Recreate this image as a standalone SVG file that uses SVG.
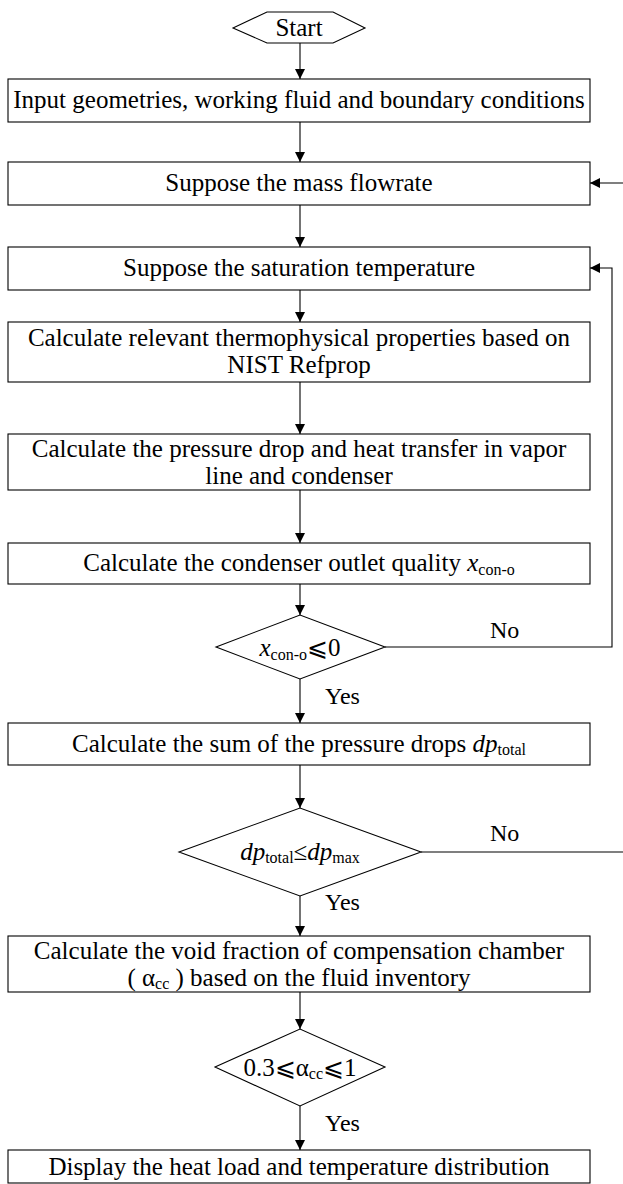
<svg xmlns="http://www.w3.org/2000/svg" width="623" height="1184" viewBox="0 0 623 1184">
<style>
.s{fill:#fff;stroke:#000;stroke-width:1.1}
.t{font-family:"Liberation Serif","Times New Roman",serif;font-size:25px;fill:#000;text-anchor:middle}
.l{font-family:"Liberation Serif","Times New Roman",serif;font-size:24px;fill:#000}
.c{fill:none;stroke:#000;stroke-width:1.1}
.i{font-style:italic}
.sub{font-size:16px}
</style>
<defs>
<marker id="a" viewBox="0 0 10 10" refX="10" refY="5" markerWidth="10" markerHeight="10" markerUnits="userSpaceOnUse" orient="auto">
<path d="M0,0 L10,5 L0,10 z" fill="#000"/>
</marker>
</defs>
<g id="connectors">
<path class="c" d="M300,43 V79" marker-end="url(#a)"/>
<path class="c" d="M300,122 V162" marker-end="url(#a)"/>
<path class="c" d="M300,205 V247" marker-end="url(#a)"/>
<path class="c" d="M300,290 V322" marker-end="url(#a)"/>
<path class="c" d="M300,382 V434" marker-end="url(#a)"/>
<path class="c" d="M300,490 V543" marker-end="url(#a)"/>
<path class="c" d="M300,584 V615" marker-end="url(#a)"/>
<path class="c" d="M300,679 V723" marker-end="url(#a)"/>
<path class="c" d="M300,765 V808" marker-end="url(#a)"/>
<path class="c" d="M300,896 V936" marker-end="url(#a)"/>
<path class="c" d="M300,992 V1029" marker-end="url(#a)"/>
<path class="c" d="M300,1106 V1150" marker-end="url(#a)"/>
<path class="c" d="M623,183 H590" marker-end="url(#a)"/>
<path class="c" d="M385,647 H612 V268 H590" marker-end="url(#a)"/>
<path class="c" d="M421,852 H623"/>
<text class="l" x="490" y="638">No</text>
<text class="l" x="325" y="704">Yes</text>
<text class="l" x="490" y="841">No</text>
<text class="l" x="325" y="910">Yes</text>
<text class="l" x="325" y="1131">Yes</text>
</g>
<g id="start">
<polygon class="s" points="233,28 267,12 333,12 365,28 333,43 267,43"/>
<text class="t" x="299" y="36">Start</text>
</g>
<g id="input">
<rect class="s" x="8" y="79" width="582" height="43"/>
<text class="t" x="299" y="108">Input geometries, working fluid and boundary conditions</text>
</g>
<g id="mass">
<rect class="s" x="8" y="162" width="582" height="43"/>
<text class="t" x="299" y="191">Suppose the mass flowrate</text>
</g>
<g id="sat">
<rect class="s" x="8" y="247" width="582" height="43"/>
<text class="t" x="299" y="276">Suppose the saturation temperature</text>
</g>
<g id="props">
<rect class="s" x="8" y="322" width="582" height="60"/>
<text class="t" x="299" y="346">Calculate relevant thermophysical properties based on</text>
<text class="t" x="299" y="373">NIST Refprop</text>
</g>
<g id="pdrop">
<rect class="s" x="8" y="434" width="582" height="56"/>
<text class="t" x="299" y="457">Calculate the pressure drop and heat transfer in vapor</text>
<text class="t" x="299" y="484">line and condenser</text>
</g>
<g id="quality">
<rect class="s" x="8" y="543" width="582" height="41"/>
<text class="t" x="299" y="571">Calculate the condenser outlet quality <tspan class="i">x</tspan><tspan class="sub" dy="4">con-o</tspan></text>
</g>
<g id="d1">
<polygon class="s" points="216,647 300,615 385,647 300,679"/>
<text class="t" x="300" y="656"><tspan class="i">x</tspan><tspan class="sub" dy="4">con-o</tspan><tspan dy="-4">⩽0</tspan></text>
</g>
<g id="sum">
<rect class="s" x="8" y="723" width="582" height="42"/>
<text class="t" x="299" y="752">Calculate the sum of the pressure drops <tspan class="i">dp</tspan><tspan class="sub" dy="3">total</tspan></text>
</g>
<g id="d2">
<polygon class="s" points="179,852 300,808 421,852 300,896"/>
<text class="t" x="300" y="860"><tspan class="i">dp</tspan><tspan class="sub" dy="3">total</tspan><tspan dy="-3">≤</tspan><tspan class="i">dp</tspan><tspan class="sub" dy="3">max</tspan></text>
</g>
<g id="void">
<rect class="s" x="8" y="936" width="582" height="56"/>
<text class="t" x="299" y="959">Calculate the void fraction of compensation chamber</text>
<text class="t" x="299" y="986">( α<tspan class="sub" dy="3">cc</tspan><tspan dy="-3"> ) based on the fluid inventory</tspan></text>
</g>
<g id="d3">
<polygon class="s" points="215,1067 300,1029 385,1067 300,1106"/>
<text class="t" x="300" y="1076">0.3⩽α<tspan class="sub" dy="3">cc</tspan><tspan dy="-3">⩽1</tspan></text>
</g>
<g id="display">
<rect class="s" x="8" y="1150" width="582" height="33"/>
<text class="t" x="299" y="1175">Display the heat load and temperature distribution</text>
</g>
</svg>
